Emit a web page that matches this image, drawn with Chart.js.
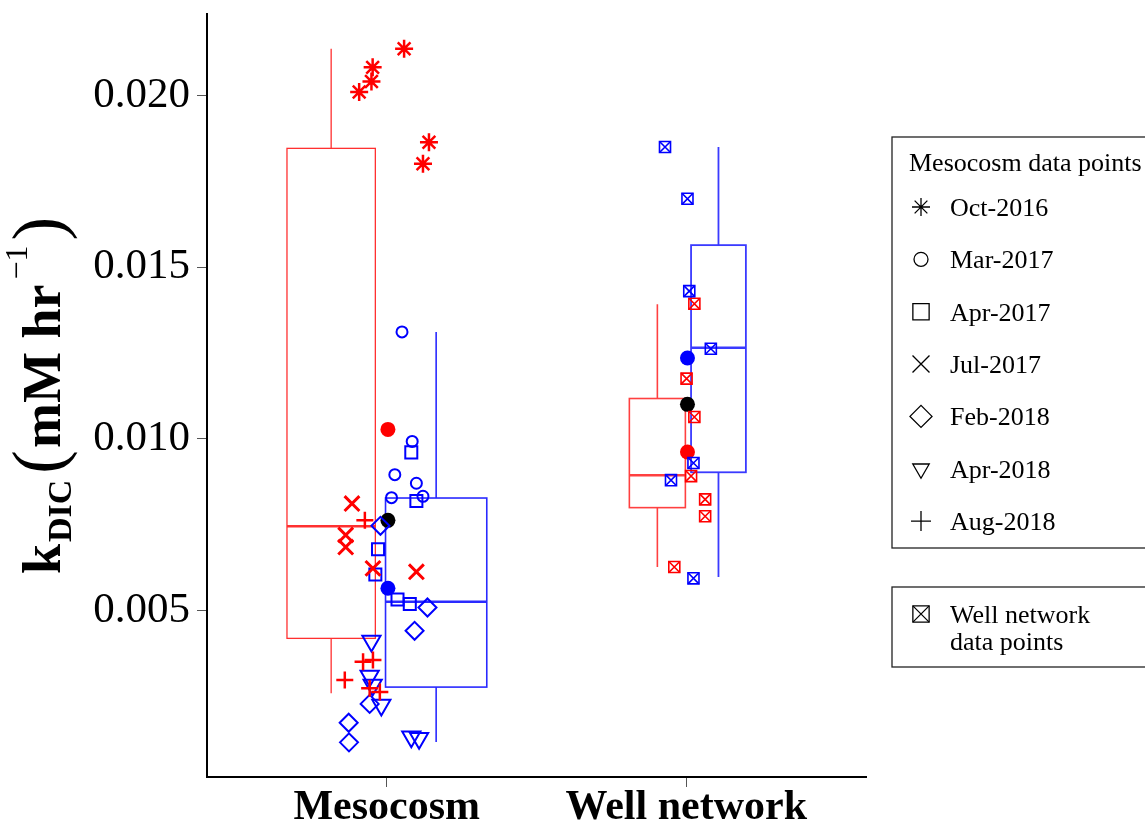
<!DOCTYPE html>
<html>
<head>
<meta charset="utf-8">
<script src="https://cdn.jsdelivr.net/npm/chart.js@4/dist/chart.umd.min.js"></script>
<style>
  html, body { margin: 0; background: #fff; }
  canvas { display: block; }
</style>
</head>
<body>
<canvas id="chart" width="1145" height="827"></canvas>
<script>
const categories = ['Mesocosm', 'Well network'];
const yTicks = [0.005, 0.010, 0.015, 0.020];
const legendDates = ['Oct-2016', 'Mar-2017', 'Apr-2017', 'Jul-2017', 'Feb-2018', 'Apr-2018', 'Aug-2018'];

// box stats: [lower whisker, Q1, median, Q3, upper whisker]
const mesoRedBox = [0.00258, 0.00418, 0.00745, 0.01846, 0.02136];
const mesoBlueBox = [0.00116, 0.00276, 0.00525, 0.00827, 0.01311];
const wellRedBox = [0.00626, 0.00799, 0.00893, 0.01117, 0.01392];
const wellBlueBox = [0.00597, 0.00902, 0.01265, 0.01564, 0.01850];

// group means: [red, all, blue]
const mesoMeans = [0.01027, 0.00762, 0.00564];
const wellMeans = [0.00961, 0.01100, 0.01235];

// samples as [jittered x, k]
const mesoRedOct2016 = [[0.908, 0.02010], [0.949, 0.02041], [0.953, 0.02082], [1.058, 0.02136], [1.141, 0.01864], [1.121, 0.01801]];
const mesoRedJul2017 = [[0.884, 0.00811], [0.863, 0.00719], [0.863, 0.00684], [0.954, 0.00622], [1.099, 0.00612]];
const mesoRedAug2018 = [[0.927, 0.00762], [0.921, 0.00350], [0.954, 0.00355], [0.860, 0.00297], [0.943, 0.00273], [0.977, 0.00262]];
const mesoBlueMar2017 = [[1.051, 0.01311], [1.085, 0.00992], [1.027, 0.00895], [1.099, 0.00870], [1.016, 0.00828], [1.121, 0.00832]];
const mesoBlueApr2017 = [[1.082, 0.00960], [1.099, 0.00818], [0.971, 0.00678], [0.962, 0.00604], [1.036, 0.00531], [1.077, 0.00518]];
const mesoBlueFeb2018 = [[0.979, 0.00746], [1.136, 0.00508], [1.093, 0.00440], [0.943, 0.00227], [0.873, 0.00172], [0.874, 0.00115]];
const mesoBlueApr2018 = [[0.949, 0.00410], [0.943, 0.00308], [0.953, 0.00282], [0.982, 0.00224], [1.082, 0.00131], [1.108, 0.00127]];
const wellBlue = [[1.929, 0.01850], [2.004, 0.01699], [2.010, 0.01430], [2.082, 0.01262], [2.024, 0.00929], [1.949, 0.00879], [2.024, 0.00593]];
const wellRed = [[2.027, 0.01393], [2.001, 0.01175], [2.027, 0.01063], [2.016, 0.00891], [2.063, 0.00823], [2.063, 0.00774], [1.960, 0.00626]];

const SERIF = "'Liberation Serif', 'Times New Roman', serif";
const RED = '#ff0000';
const BLUE = '#0000ff';

// box placement on the x axis (left/right edges in axis units)
const boxes = [
  { stats: mesoRedBox, left: 0.667, right: 0.962, color: '#ff3030', lw: 1.3, medLw: 2.5 },
  { stats: mesoBlueBox, left: 0.996, right: 1.334, color: '#2a2aff', lw: 1.6, medLw: 2.5 },
  { stats: wellRedBox, left: 1.810, right: 1.997, color: '#ff4040', lw: 1.6, medLw: 2.5 },
  { stats: wellBlueBox, left: 2.016, right: 2.199, color: '#3a3aff', lw: 1.8, medLw: 2.5 }
];

const toPoints = (arr) => arr.map(([x, y]) => ({ x, y }));

function markers(data, color, style, radius, extra) {
  return Object.assign({
    data: toPoints(data),
    showLine: false,
    pointStyle: style,
    pointRadius: radius,
    pointBorderColor: color,
    pointBackgroundColor: 'rgba(0,0,0,0)',
    pointBorderWidth: 2
  }, extra || {});
}

function meanDots(xPos, values, colors) {
  return {
    data: values.map((v) => ({ x: xPos, y: v })),
    showLine: false,
    pointStyle: 'circle',
    pointRadius: 7.5,
    pointBorderWidth: 0,
    pointBackgroundColor: colors,
    pointBorderColor: colors
  };
}

const boxPlugin = {
  id: 'boxes',
  beforeDatasetsDraw(chart) {
    const { ctx, scales: { x, y } } = chart;
    boxes.forEach((b) => {
      const [lo, q1, med, q3, hi] = b.stats.map((v) => y.getPixelForValue(v));
      const x0 = x.getPixelForValue(b.left);
      const x1 = x.getPixelForValue(b.right);
      const xc = (x0 + x1) / 2;
      ctx.save();
      ctx.strokeStyle = b.color;
      ctx.lineWidth = b.lw;
      ctx.strokeRect(x0, q3, x1 - x0, q1 - q3);
      ctx.beginPath();
      ctx.moveTo(xc, q3); ctx.lineTo(xc, hi);
      ctx.moveTo(xc, q1); ctx.lineTo(xc, lo);
      ctx.stroke();
      ctx.lineWidth = b.medLw;
      ctx.beginPath();
      ctx.moveTo(x0, med); ctx.lineTo(x1, med);
      ctx.stroke();
      ctx.restore();
    });
  }
};

// k_DIC (mM hr^-1) written piece by piece, rotated
const yTitlePlugin = {
  id: 'yTitle',
  afterDraw(chart) {
    const ctx = chart.ctx;
    ctx.save();
    ctx.translate(60, 574);
    ctx.rotate(-Math.PI / 2);
    ctx.fillStyle = '#000';
    ctx.textBaseline = 'alphabetic';
    let pos = 0;
    const put = (text, font, dy, gap) => {
      ctx.font = font;
      ctx.fillText(text, pos, dy);
      pos += ctx.measureText(text).width + gap;
    };
    put('k', `bold 54px ${SERIF}`, 0, 2);
    put('DIC', `bold 34px ${SERIF}`, 11, 6);
    put('(', `71px ${SERIF}`, 2, 2);
    put('mM hr', `bold 54px ${SERIF}`, 0, 5);
    put('\u22121', `32px ${SERIF}`, -33, 5);
    put(')', `71px ${SERIF}`, 2, 0);
    ctx.restore();
  }
};

const legendStyles = [
  { pointStyle: 'star', radius: 9 },
  { pointStyle: 'circle', radius: 7 },
  { pointStyle: 'rect', radius: 11.5 },
  { pointStyle: 'crossRot', radius: 12 },
  { pointStyle: 'rectRot', radius: 11 },
  { pointStyle: 'triangle', radius: 9.5, rotation: 180 },
  { pointStyle: 'cross', radius: 10 }
];

const legendPlugin = {
  id: 'sampleLegend',
  afterDraw(chart) {
    const ctx = chart.ctx;
    const draw = Chart.helpers.drawPoint;
    ctx.save();
    ctx.strokeStyle = '#222';
    ctx.lineWidth = 1.3;
    ctx.strokeRect(892, 137, 300, 411);
    ctx.strokeRect(892, 587, 300, 80);
    ctx.font = `26px ${SERIF}`;
    ctx.textBaseline = 'alphabetic';
    ctx.fillStyle = '#000';
    ctx.fillText('Mesocosm data points', 909, 171);
    legendDates.forEach((label, i) => {
      const cy = 207 + i * 52.35;
      const s = legendStyles[i];
      ctx.fillStyle = 'rgba(0,0,0,0)';
      ctx.strokeStyle = '#000';
      draw(ctx, { pointStyle: s.pointStyle, radius: s.radius, rotation: s.rotation || 0, borderWidth: 1.8 }, 921, cy);
      ctx.fillStyle = '#000';
      ctx.fillText(label, 950, cy + 9);
    });
    ctx.fillStyle = 'rgba(0,0,0,0)';
    ctx.strokeStyle = '#000';
    draw(ctx, { pointStyle: 'rect', radius: 11.5, rotation: 0, borderWidth: 1.6 }, 921, 614);
    draw(ctx, { pointStyle: 'crossRot', radius: 11.5, rotation: 0, borderWidth: 1.6 }, 921, 614);
    ctx.fillStyle = '#000';
    ctx.fillText('Well network', 950, 623);
    ctx.fillText('data points', 950, 650);
    ctx.restore();
  }
};

const axisGrid = { display: true, drawOnChartArea: false, drawTicks: true, tickLength: 10, color: '#555', lineWidth: 1 };
const axisBorder = { display: true, color: '#000', width: 2 };

new Chart(document.getElementById('chart'), {
  type: 'scatter',
  data: {
    datasets: [
      markers(mesoRedOct2016, RED, 'star', 9, { pointBorderWidth: 2.5 }),
      markers(mesoRedJul2017, RED, 'crossRot', 10.5, { pointBorderWidth: 3 }),
      markers(mesoRedAug2018, RED, 'cross', 8.5, { pointBorderWidth: 2.5 }),
      markers(mesoBlueMar2017, BLUE, 'circle', 5.5),
      markers(mesoBlueApr2017, BLUE, 'rect', 8.5),
      markers(mesoBlueFeb2018, BLUE, 'rectRot', 9),
      markers(mesoBlueApr2018, BLUE, 'triangle', 10.5, { pointRotation: 180 }),
      markers(wellBlue, BLUE, 'rect', 7.8, { pointBorderWidth: 1.6 }),
      markers(wellBlue, BLUE, 'crossRot', 7.8, { pointBorderWidth: 1.6 }),
      markers(wellRed, RED, 'rect', 7.8, { pointBorderWidth: 1.6 }),
      markers(wellRed, RED, 'crossRot', 7.8, { pointBorderWidth: 1.6 }),
      meanDots(1.004, mesoMeans, [RED, '#000', BLUE]),
      meanDots(2.004, wellMeans, [RED, '#000', BLUE])
    ]
  },
  options: {
    responsive: false,
    animation: false,
    devicePixelRatio: 1,
    events: [],
    layout: { padding: { left: 0, top: 13, right: 279, bottom: 0 } },
    plugins: { legend: { display: false }, tooltip: { enabled: false } },
    scales: {
      x: {
        type: 'linear',
        min: 0.4,
        max: 2.6,
        afterBuildTicks: (s) => { s.ticks = [{ value: 1 }, { value: 2 }]; },
        afterFit: (s) => { s.height = 50; s.paddingLeft = 0; s.paddingRight = 0; },
        grid: axisGrid,
        border: axisBorder,
        ticks: {
          callback: (v, i) => categories[i],
          color: '#000',
          padding: -4,
          maxRotation: 0,
          autoSkip: false,
          font: { family: SERIF, size: 42, weight: 'bold' }
        }
      },
      y: {
        min: 0.00014,
        max: 0.02239,
        afterBuildTicks: (s) => { s.ticks = yTicks.map((v) => ({ value: v })); },
        afterFit: (s) => { s.width = 207; s.paddingTop = 0; s.paddingBottom = 0; },
        grid: axisGrid,
        border: axisBorder,
        ticks: {
          callback: (v) => v.toFixed(3),
          color: '#000',
          padding: 7,
          autoSkip: false,
          font: { family: SERIF, size: 43 }
        }
      }
    }
  },
  plugins: [boxPlugin, yTitlePlugin, legendPlugin]
});
</script>
</body>
</html>
